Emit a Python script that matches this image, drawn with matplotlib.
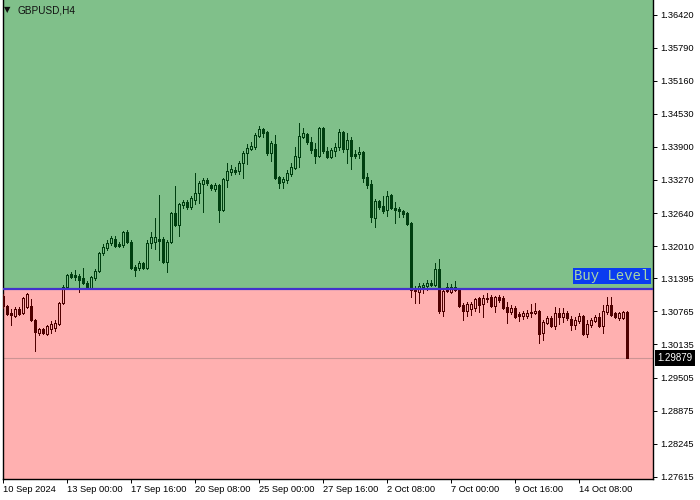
import matplotlib
matplotlib.use("Agg")
import matplotlib.pyplot as plt
from matplotlib.patches import Rectangle
from matplotlib.collections import LineCollection, PatchCollection

symbol = "GBPUSD,H4"
buy_level = 1.3120
last_price = 1.29879

opens = [
    1.3106, 1.3087, 1.3074, 1.3068, 1.3081, 1.3074, 1.3085, 1.3087, 1.3060, 1.3035,
    1.3043, 1.3034, 1.3043, 1.3045, 1.3053, 1.3093, 1.3123, 1.3148, 1.3146, 1.3144,
    1.3140, 1.3131, 1.3121, 1.3140, 1.3154, 1.3188, 1.3197, 1.3207, 1.3215, 1.3205,
    1.3203, 1.3228, 1.3209, 1.3161, 1.3159, 1.3169, 1.3159, 1.3207, 1.3209, 1.3215,
    1.3215, 1.3171, 1.3209, 1.3264, 1.3241, 1.3279, 1.3285, 1.3276, 1.3289, 1.3302,
    1.3319, 1.3327, 1.3317, 1.3310, 1.3317, 1.3270, 1.3327, 1.3342, 1.3346, 1.3344,
    1.3359, 1.3378, 1.3386, 1.3390, 1.3411, 1.3424, 1.3418, 1.3378, 1.3396, 1.3333,
    1.3323, 1.3327, 1.3338, 1.3350, 1.3371, 1.3409, 1.3415, 1.3399, 1.3386, 1.3373,
    1.3426, 1.3382, 1.3371, 1.3382, 1.3390, 1.3418, 1.3386, 1.3403, 1.3376, 1.3376,
    1.3380, 1.3333, 1.3319, 1.3255, 1.3287, 1.3277, 1.3270, 1.3298, 1.3274, 1.3272,
    1.3268, 1.3264, 1.3245, 1.3119, 1.3114, 1.3123, 1.3125, 1.3131, 1.3127, 1.3157,
    1.3077, 1.3123, 1.3114, 1.3123, 1.3119, 1.3089, 1.3077, 1.3081, 1.3083, 1.3102,
    1.3091, 1.3102, 1.3104, 1.3087, 1.3104, 1.3102, 1.3085, 1.3075, 1.3083, 1.3072,
    1.3068, 1.3068, 1.3075, 1.3074, 1.3077, 1.3035, 1.3054, 1.3064, 1.3049, 1.3074,
    1.3066, 1.3074, 1.3062, 1.3051, 1.3058, 1.3068, 1.3034, 1.3051, 1.3058, 1.3066,
    1.3049, 1.3075, 1.3089, 1.3074, 1.3064, 1.3064, 1.3075,
]
highs = [
    1.3110, 1.3089, 1.3081, 1.3085, 1.3085, 1.3104, 1.3112, 1.3100, 1.3062, 1.3045,
    1.3045, 1.3051, 1.3058, 1.3060, 1.3094, 1.3127, 1.3148, 1.3152, 1.3155, 1.3148,
    1.3159, 1.3134, 1.3144, 1.3157, 1.3190, 1.3205, 1.3213, 1.3220, 1.3220, 1.3209,
    1.3230, 1.3232, 1.3213, 1.3165, 1.3173, 1.3171, 1.3213, 1.3228, 1.3255, 1.3298,
    1.3218, 1.3213, 1.3266, 1.3316, 1.3283, 1.3289, 1.3289, 1.3296, 1.3340, 1.3325,
    1.3331, 1.3331, 1.3319, 1.3321, 1.3319, 1.3331, 1.3359, 1.3356, 1.3352, 1.3363,
    1.3382, 1.3396, 1.3399, 1.3417, 1.3430, 1.3426, 1.3420, 1.3401, 1.3413, 1.3335,
    1.3333, 1.3346, 1.3359, 1.3390, 1.3436, 1.3426, 1.3417, 1.3409, 1.3398, 1.3428,
    1.3428, 1.3390, 1.3388, 1.3398, 1.3424, 1.3420, 1.3417, 1.3409, 1.3384, 1.3390,
    1.3382, 1.3340, 1.3327, 1.3291, 1.3289, 1.3296, 1.3306, 1.3300, 1.3285, 1.3276,
    1.3270, 1.3266, 1.3247, 1.3125, 1.3131, 1.3131, 1.3136, 1.3136, 1.3169, 1.3176,
    1.3121, 1.3131, 1.3129, 1.3134, 1.3121, 1.3093, 1.3094, 1.3094, 1.3102, 1.3104,
    1.3108, 1.3112, 1.3108, 1.3106, 1.3108, 1.3106, 1.3094, 1.3089, 1.3087, 1.3075,
    1.3077, 1.3079, 1.3091, 1.3093, 1.3079, 1.3060, 1.3068, 1.3068, 1.3085, 1.3083,
    1.3083, 1.3077, 1.3068, 1.3066, 1.3074, 1.3070, 1.3060, 1.3064, 1.3070, 1.3074,
    1.3089, 1.3104, 1.3104, 1.3075, 1.3075, 1.3077, 1.3077,
]
lows = [
    1.3083, 1.3070, 1.3051, 1.3066, 1.3070, 1.3072, 1.3083, 1.3058, 1.3001, 1.3032,
    1.3034, 1.3032, 1.3035, 1.3039, 1.3051, 1.3091, 1.3121, 1.3140, 1.3136, 1.3114,
    1.3129, 1.3119, 1.3119, 1.3136, 1.3152, 1.3184, 1.3194, 1.3203, 1.3199, 1.3199,
    1.3199, 1.3207, 1.3157, 1.3144, 1.3155, 1.3157, 1.3157, 1.3197, 1.3195, 1.3174,
    1.3169, 1.3152, 1.3207, 1.3239, 1.3220, 1.3274, 1.3272, 1.3272, 1.3281, 1.3283,
    1.3266, 1.3317, 1.3308, 1.3306, 1.3247, 1.3268, 1.3314, 1.3337, 1.3338, 1.3338,
    1.3331, 1.3357, 1.3384, 1.3386, 1.3409, 1.3409, 1.3375, 1.3363, 1.3329, 1.3312,
    1.3312, 1.3321, 1.3335, 1.3348, 1.3352, 1.3407, 1.3396, 1.3378, 1.3359, 1.3371,
    1.3378, 1.3369, 1.3369, 1.3373, 1.3384, 1.3380, 1.3359, 1.3348, 1.3369, 1.3369,
    1.3323, 1.3312, 1.3247, 1.3237, 1.3272, 1.3264, 1.3258, 1.3272, 1.3245, 1.3256,
    1.3256, 1.3241, 1.3104, 1.3093, 1.3093, 1.3112, 1.3117, 1.3125, 1.3125, 1.3074,
    1.3068, 1.3114, 1.3112, 1.3115, 1.3085, 1.3060, 1.3068, 1.3070, 1.3077, 1.3075,
    1.3066, 1.3094, 1.3085, 1.3075, 1.3094, 1.3081, 1.3054, 1.3072, 1.3064, 1.3058,
    1.3062, 1.3064, 1.3066, 1.3072, 1.3016, 1.3022, 1.3053, 1.3047, 1.3043, 1.3053,
    1.3056, 1.3060, 1.3041, 1.3043, 1.3054, 1.3032, 1.3028, 1.3047, 1.3056, 1.3047,
    1.3035, 1.3072, 1.3068, 1.3064, 1.3060, 1.3062, 1.2987,
]
closes = [
    1.3087, 1.3072, 1.3070, 1.3081, 1.3072, 1.3102, 1.3110, 1.3060, 1.3037, 1.3043,
    1.3035, 1.3049, 1.3053, 1.3054, 1.3093, 1.3123, 1.3146, 1.3142, 1.3142, 1.3136,
    1.3131, 1.3123, 1.3142, 1.3154, 1.3188, 1.3199, 1.3207, 1.3216, 1.3201, 1.3201,
    1.3228, 1.3209, 1.3159, 1.3155, 1.3169, 1.3159, 1.3207, 1.3218, 1.3218, 1.3211,
    1.3171, 1.3209, 1.3264, 1.3241, 1.3281, 1.3285, 1.3276, 1.3293, 1.3302, 1.3321,
    1.3327, 1.3321, 1.3312, 1.3317, 1.3270, 1.3329, 1.3344, 1.3348, 1.3342, 1.3359,
    1.3378, 1.3388, 1.3392, 1.3413, 1.3424, 1.3417, 1.3378, 1.3398, 1.3331, 1.3321,
    1.3329, 1.3340, 1.3352, 1.3373, 1.3411, 1.3417, 1.3399, 1.3384, 1.3373, 1.3426,
    1.3382, 1.3371, 1.3384, 1.3390, 1.3418, 1.3386, 1.3403, 1.3373, 1.3373, 1.3380,
    1.3331, 1.3317, 1.3256, 1.3287, 1.3276, 1.3268, 1.3296, 1.3274, 1.3270, 1.3268,
    1.3262, 1.3243, 1.3117, 1.3115, 1.3125, 1.3127, 1.3131, 1.3127, 1.3157, 1.3077,
    1.3115, 1.3115, 1.3123, 1.3117, 1.3087, 1.3077, 1.3091, 1.3091, 1.3100, 1.3089,
    1.3102, 1.3100, 1.3087, 1.3104, 1.3098, 1.3083, 1.3075, 1.3083, 1.3066, 1.3068,
    1.3074, 1.3074, 1.3074, 1.3077, 1.3034, 1.3056, 1.3064, 1.3049, 1.3074, 1.3066,
    1.3074, 1.3064, 1.3051, 1.3060, 1.3068, 1.3034, 1.3053, 1.3060, 1.3066, 1.3049,
    1.3077, 1.3089, 1.3070, 1.3066, 1.3074, 1.3075, 1.29879,
]

# Axe des temps : une etiquette toutes les 16 bougies
time_labels = ["10 Sep 2024", "13 Sep 00:00", "17 Sep 16:00", "20 Sep 08:00",
               "25 Sep 00:00", "27 Sep 16:00", "2 Oct 08:00", "7 Oct 00:00",
               "9 Oct 16:00", "14 Oct 08:00"]
price_ticks = [1.36420, 1.35790, 1.35160, 1.34530, 1.33900, 1.33270, 1.32640,
               1.32010, 1.31395, 1.30765, 1.30135, 1.29505, 1.28875, 1.28245,
               1.27615]

y_min, y_max = 1.27571, 1.36700
x_min, x_max = -0.05, 162.6

bg_up = "#80C08A"
bg_down = "#FFB0B0"
candle_up = "#003F10"
candle_down = "#4F0000"


def draw_candles(ax, color, lo, hi):
    # Bougies creuses (hausse) et pleines (baisse), decoupees par zone
    w = 0.5
    wicks, filled, hollow = [], [], []
    for i, (o, h, l, c) in enumerate(zip(opens, highs, lows, closes)):
        top, bot = max(o, c), min(o, c)
        if c > o:
            wicks.append([(i, top), (i, h)])
            wicks.append([(i, l), (i, bot)])
            hollow.append(Rectangle((i - w / 2, bot), w, top - bot))
        else:
            wicks.append([(i, l), (i, h)])
            filled.append(Rectangle((i - w / 2, bot), w, top - bot))

    clip = Rectangle((x_min, lo), x_max - x_min, hi - lo, transform=ax.transData)
    lc = LineCollection(wicks, colors=color, linewidths=0.5, antialiaseds=False, zorder=3)
    pf = PatchCollection(filled, facecolor=color, edgecolor=color, linewidths=0.5,
                         antialiaseds=False, zorder=4)
    ph = PatchCollection(hollow, facecolor="none", edgecolor=color, linewidths=0.5,
                         antialiaseds=False, zorder=4)
    for art in (lc, pf, ph):
        ax.add_collection(art)
        art.set_clip_path(clip)


def main():
    plt.rcParams["font.family"] = ["Liberation Sans", "DejaVu Sans"]
    fig = plt.figure(figsize=(7, 5), dpi=100)
    ax = fig.add_axes([2.5 / 700, 21 / 500, 650.5 / 700, 479 / 500])

    ax.set_xlim(x_min, x_max)
    ax.set_ylim(y_min, y_max)

    # Zones de fond au-dessus / en dessous du niveau
    ax.axhspan(buy_level, y_max, color=bg_up, zorder=0)
    ax.axhspan(y_min, buy_level, color=bg_down, zorder=0)

    ax.axhline(last_price, color="#CC9494", lw=0.8, zorder=2)

    draw_candles(ax, candle_up, buy_level, y_max)
    draw_candles(ax, candle_down, y_min, buy_level)

    ax.axhline(buy_level, color="#4232CC", lw=1.6, zorder=5)

    # Etiquette "Buy Level"
    ax.annotate("Buy Level", xy=(1, buy_level), xycoords=("axes fraction", "data"),
                xytext=(-2.6, 4.3), textcoords="offset points", ha="right", va="bottom",
                family="Liberation Mono", fontsize=10, color="#A9D6A6", zorder=6,
                bbox=dict(boxstyle="square,pad=0.08", fc="#0A3CF0", ec="none"))

    # Prix courant sur l'axe
    ax.annotate(f"{last_price:.5f}", xy=(1, last_price), xycoords=("axes fraction", "data"),
                xytext=(3.2, 0), textcoords="offset points", ha="left", va="center",
                fontsize=7, color="white", annotation_clip=False,
                bbox=dict(boxstyle="square,pad=0.3", fc="black", ec="none"))

    # Axes
    ax.yaxis.tick_right()
    ax.set_yticks(price_ticks)
    ax.set_yticklabels([f"{v:.5f}" for v in price_ticks])
    ax.tick_params(axis="y", length=3, width=0.7, pad=2, labelsize=6.7, colors="black")

    ax.set_xticks(range(0, 16 * len(time_labels), 16))
    ax.set_xticklabels(time_labels)
    for lab in ax.get_xticklabels():
        lab.set_ha("left")
    ax.tick_params(axis="x", length=3, width=0.7, pad=1.5, labelsize=6.7)

    for side in ("left", "right", "bottom"):
        ax.spines[side].set_linewidth(1.0)
        ax.spines[side].set_color("black")
    ax.spines["top"].set_visible(False)

    # Titre en haut a gauche
    fig.text(4 / 700, 1 - 9.5 / 500, "\u25bc", fontsize=6, family="DejaVu Sans",
             va="center", ha="left", color="#111111")
    fig.text(17.5 / 700, 1 - 10.5 / 500, symbol, fontsize=7.2, va="center", ha="left",
             color="#111111")

    fig.savefig("out.png", dpi=100)


if __name__ == "__main__":
    main()
